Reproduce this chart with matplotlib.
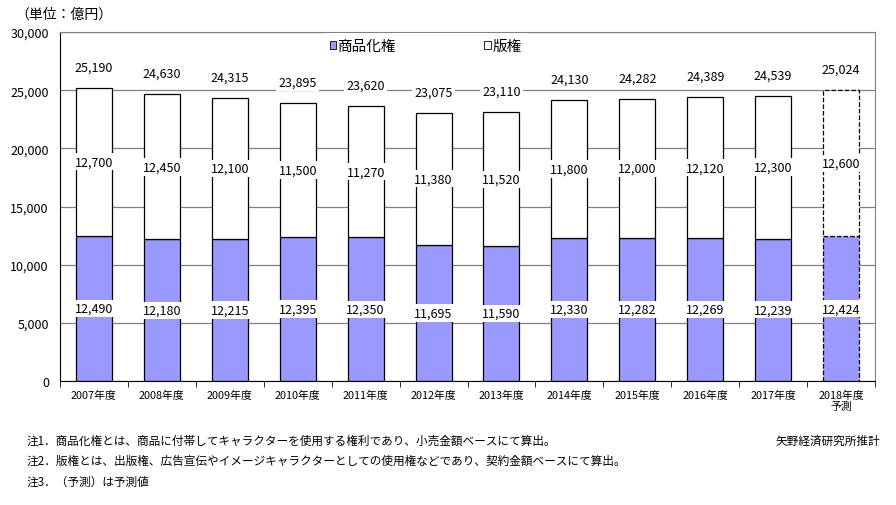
import matplotlib
matplotlib.use('Agg')
import matplotlib.pyplot as plt
from matplotlib.patches import Patch
import numpy as np

plt.rcParams['font.family'] = ['Noto Sans CJK JP', 'DejaVu Sans']

# data (単位: 億円)
years = ['2007年度', '2008年度', '2009年度', '2010年度', '2011年度', '2012年度',
         '2013年度', '2014年度', '2015年度', '2016年度', '2017年度', '2018年度\n予測']
merch = [12490, 12180, 12215, 12395, 12350, 11695, 11590, 12330, 12282, 12269, 12239, 12424]
pub = [12700, 12450, 12100, 11500, 11270, 11380, 11520, 11800, 12000, 12120, 12300, 12600]
totals = [25190, 24630, 24315, 23895, 23620, 23075, 23110, 24130, 24282, 24389, 24539, 25024]

notes = ['注1．商品化権とは、商品に付帯してキャラクターを使用する権利であり、小売金額ベースにて算出。',
         '注2．版権とは、出版権、広告宣伝やイメージキャラクターとしての使用権などであり、契約金額ベースにて算出。',
         '注3．（予測）は予測値']

purple = '#9999FF'
grey = '#808080'
fs_num = 9
fs_tick = 7.8
fs_note = 8.4

fig = plt.figure(figsize=(8.96, 5.06), dpi=100)
ax = fig.add_axes([60 / 896, 1 - 382 / 506, 815 / 896, 349 / 506])

x = np.arange(len(years))
w = 0.53
for i in x:
    ls = '--' if i == len(years) - 1 else '-'
    ax.bar(i, merch[i], w, color=purple, edgecolor='black', linewidth=0.9, linestyle=ls, zorder=2)
    ax.bar(i, pub[i], w, bottom=merch[i], color='white', edgecolor='black', linewidth=0.9,
           linestyle=ls, zorder=2)

box = dict(facecolor='white', edgecolor='none', pad=1.5)
for i in x:
    ax.text(i, merch[i] / 2, f'{merch[i]:,}', ha='center', va='center', fontsize=fs_num,
            bbox=box, zorder=4)
    ax.text(i, merch[i] + pub[i] / 2, f'{pub[i]:,}', ha='center', va='center', fontsize=fs_num,
            bbox=box, zorder=4)
    ax.annotate(f'{totals[i]:,}', (i, totals[i]), xytext=(0, 15), textcoords='offset points',
                ha='center', va='center', fontsize=fs_num, bbox=box, zorder=4)

ax.set_xlim(-0.5, len(years) - 0.5)
ax.set_ylim(0, 30000)
ax.set_yticks(range(0, 30001, 5000))
ax.set_yticklabels([f'{v:,}' for v in range(0, 30001, 5000)], fontsize=fs_num)
ax.yaxis.grid(True, color=grey, linewidth=0.9, zorder=0)
ax.set_axisbelow(True)

ax.set_xticks(x)
ax.set_xticklabels(years, fontsize=fs_tick, linespacing=1.2)
ax.tick_params(axis='x', length=0, pad=6)
ax.set_xticks(np.arange(-0.5, len(years)), minor=True)
ax.tick_params(axis='x', which='minor', length=4, direction='out')
ax.tick_params(axis='y', length=0, pad=8)

for s in ['top', 'right']:
    ax.spines[s].set_color(grey)
ax.spines['left'].set_color('black')
ax.spines['bottom'].set_color('black')

handles = [Patch(facecolor=purple, edgecolor='black', linewidth=0.6, label='商品化権'),
           Patch(facecolor='white', edgecolor='black', linewidth=0.6, label='版権')]
leg = ax.legend(handles=handles, ncol=2, loc='center', bbox_to_anchor=(0.449, 1 - 14 / 349),
                frameon=True, framealpha=1, edgecolor='none', fontsize=10.5, handlelength=0.45,
                handleheight=0.45, handletextpad=0.15, columnspacing=6.0)

fig.text(15 / 896, 1 - 15 / 506, '（単位：億円）', fontsize=10, va='center')
for k, n in enumerate(notes):
    fig.text(27 / 896, 1 - (441 + 20.5 * k) / 506, n, fontsize=fs_note, va='center')
fig.text(880 / 896, 1 - 441 / 506, '矢野経済研究所推計', fontsize=fs_note, va='center', ha='right')

fig.savefig('out.png', dpi=100)
